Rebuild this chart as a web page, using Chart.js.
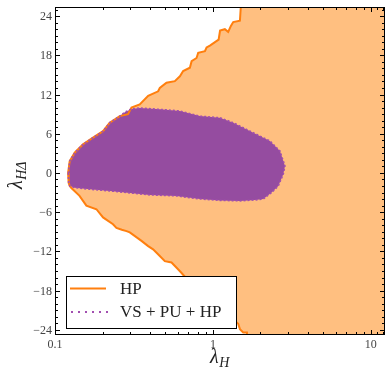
<!DOCTYPE html>
<html>
<head>
<meta charset="utf-8">
<script src="https://cdn.jsdelivr.net/npm/chart.js@4.4.1/dist/chart.umd.min.js"></script>
<style>
  html, body { margin: 0; padding: 0; background: #fff; }
  canvas { display: block; }
</style>
</head>
<body>
<canvas id="chart" width="387" height="368"></canvas>
<script>
// HP allowed region boundary (everything to the right of it is allowed)
const hpLambdaH = [1.50, 1.50, 1.483, 1.345, 1.30, 1.25, 1.19, 1.11, 1.087, 0.957, 0.912, 0.89, 0.807, 0.788, 0.733, 0.715,
  0.648, 0.618, 0.574, 0.508, 0.461, 0.45, 0.389, 0.344, 0.305, 0.29, 0.257, 0.222, 0.2015, 0.174, 0.1505, 0.1333,
  0.1239, 0.121, 0.122, 0.124, 0.127, 0.143, 0.158, 0.183, 0.2015, 0.233, 0.245, 0.265, 0.2836, 0.2977, 0.353, 0.389,
  0.418, 0.461, 0.496, 0.547, 0.589, 0.627, 0.70, 0.827, 0.95, 1.108, 1.25, 1.42, 1.447, 1.483, 1.556, 1.643, 1.65,
  100, 100];
const hpLambdaHD = [30, 25.2, 23.3, 23.1, 22.5, 21.6, 22.0, 21.8, 20.4, 19.5, 19.2, 18.65, 18.4, 17.6, 17.1, 16.1,
  15.6, 14.8, 14.05, 13.8, 13.0, 12.5, 11.8, 10.5, 10.0, 9.0, 8.7, 7.7, 6.4, 5.4, 4.4, 3.1,
  1.8, 0, -1.5, -2.0, -2.3, -3.5, -5.0, -5.55, -6.8, -7.85, -8.4, -8.7, -8.9, -9.1, -10.4, -11.2,
  -11.7, -12.7, -13.5, -13.7, -14.5, -15.2, -16.5, -18.0, -19.3, -20.3, -21.5, -22.9, -23.1, -23.9, -24.4, -24.4, -30,
  -30, 30];

// VS + PU + HP allowed region (closed contour)
const vsLambdaH = [0.1213, 0.122, 0.124, 0.1333, 0.166, 0.222, 0.2977, 0.3986, 0.589, 0.827, 1.108, 1.483, 1.846,
  2.084, 2.356, 2.595, 2.79, 2.862, 2.66, 2.298, 1.801, 1.345, 1.108, 0.827, 0.618, 0.461, 0.344, 0.305, 0.2767,
  0.257, 0.222, 0.2015, 0.174, 0.1505, 0.1333, 0.1239, 0.1213];
const vsLambdaHD = [0, -1.5, -2.0, -2.25, -2.5, -2.75, -3.06, -3.36, -3.52, -3.98, -4.2, -4.28, -4.13,
  -4.0, -3.0, -2.0, -0.2, 1.07, 3.36, 4.9, 6.16, 7.7, 8.46, 8.7, 9.5, 9.74, 9.94, 9.8, 9.3,
  8.7, 7.7, 6.4, 5.4, 4.4, 3.1, 1.8, 0];

const seriesNames = ['HP', 'VS + PU + HP'];
const xTickValues = [0.1, 1, 10];
const xTickLabels = ['0.1', '1', '10'];
const yTickValues = [-24, -18, -12, -6, 0, 6, 12, 18, 24];
const yTickLabels = ['\u221224', '\u221218', '\u221212', '\u22126', '0', '6', '12', '18', '24'];

const orangeLine = '#ff7f0e';
const orangeFill = '#ffbf80';
const purpleFill = '#954ca0';
const purpleLine = '#a24fb0';
const serif = '"Liberation Serif", "DejaVu Serif", serif';

const toPts = (xs, ys) => xs.map((v, i) => ({ x: v, y: ys[i] }));
const hpPts = toPts(hpLambdaH, hpLambdaHD);
const vsPts = toPts(vsLambdaH, vsLambdaHD);

// lambda with subscript, drawn at (x, y) baseline, optionally rotated
function drawLambda(ctx, x, y, sub, rot) {
  ctx.save();
  ctx.translate(x, y);
  ctx.rotate(rot);
  ctx.fillStyle = '#222';
  ctx.textAlign = 'left';
  ctx.textBaseline = 'alphabetic';
  ctx.font = 'italic 20px ' + serif;
  ctx.fillText('\u03bb', 0, 0);
  const w = ctx.measureText('\u03bb').width;
  ctx.font = 'italic 14px ' + serif;
  ctx.fillText(sub, w + 0.5, 4);
  ctx.restore();
}

const axesPlugin = {
  id: 'axesPlugin',
  afterDraw(chart) {
    const { ctx, chartArea: a, scales: { x, y } } = chart;
    ctx.save();

    // ticks on all four sides, pointing in
    ctx.strokeStyle = '#000';
    ctx.lineWidth = 1;
    ctx.beginPath();
    for (let v = -24; v <= 25; v++) {
      const len = yTickValues.includes(v) ? 5 : 3;
      const py = Math.round(y.getPixelForValue(v)) + 0.5;
      ctx.moveTo(a.left, py); ctx.lineTo(a.left + len, py);
      ctx.moveTo(a.right, py); ctx.lineTo(a.right - len, py);
    }
    const xMinor = [];
    [0.1, 1, 10].forEach(d => { for (let k = 1; k <= 9; k++) xMinor.push(+(d * k).toFixed(3)); });
    xMinor.push(11, 12);
    xMinor.forEach(v => {
      if (v < x.min || v > x.max) return;
      const len = xTickValues.includes(v) ? 5 : 3;
      const px = Math.round(x.getPixelForValue(v)) + 0.5;
      ctx.moveTo(px, a.bottom); ctx.lineTo(px, a.bottom - len);
      ctx.moveTo(px, a.top); ctx.lineTo(px, a.top + len);
    });
    ctx.stroke();

    // frame
    ctx.strokeRect(a.left + 0.5, a.top + 0.5, a.right - a.left - 1, a.bottom - a.top - 1);

    // tick labels
    ctx.fillStyle = '#444';
    ctx.font = '12px ' + serif;
    ctx.textAlign = 'right';
    ctx.textBaseline = 'alphabetic';
    yTickValues.forEach((v, i) => {
      ctx.fillText(yTickLabels[i], a.left - 3, y.getPixelForValue(v) + 4);
    });
    ctx.textAlign = 'center';
    xTickValues.forEach((v, i) => {
      ctx.fillText(xTickLabels[i], x.getPixelForValue(v), a.bottom + 13);
    });

    // axis titles
    drawLambda(ctx, 210, 363, 'H', 0);
    drawLambda(ctx, 22, 189, 'H\u0394', -Math.PI / 2);

    // legend box
    const lx = 66.5, ly = 276.5, lw = 170, lh = 52;
    ctx.fillStyle = '#fff';
    ctx.fillRect(lx, ly, lw, lh);
    ctx.strokeStyle = '#000';
    ctx.lineWidth = 1;
    ctx.strokeRect(lx, ly, lw, lh);

    ctx.lineWidth = 2;
    ctx.strokeStyle = orangeLine;
    ctx.beginPath(); ctx.moveTo(70, 288.5); ctx.lineTo(106, 288.5); ctx.stroke();
    ctx.strokeStyle = purpleLine;
    ctx.setLineDash([2, 5]);
    ctx.beginPath(); ctx.moveTo(71, 312); ctx.lineTo(108, 312); ctx.stroke();
    ctx.setLineDash([]);

    ctx.fillStyle = '#222';
    ctx.font = '17px ' + serif;
    ctx.textAlign = 'left';
    ctx.fillText(seriesNames[0], 120, 294);
    ctx.fillText(seriesNames[1], 120, 317);

    ctx.restore();
  }
};

new Chart(document.getElementById('chart'), {
  type: 'line',
  data: {
    datasets: [
      { label: seriesNames[0], data: hpPts, fill: 'shape', backgroundColor: orangeFill,
        borderColor: 'rgba(0,0,0,0)', borderWidth: 0, pointRadius: 0, tension: 0, order: 4 },
      { label: seriesNames[1], data: vsPts, fill: 'shape', backgroundColor: purpleFill,
        borderColor: 'rgba(0,0,0,0)', borderWidth: 0, pointRadius: 0, tension: 0, order: 3 },
      { label: seriesNames[0], data: hpPts, fill: false, borderColor: orangeLine,
        borderWidth: 2, pointRadius: 0, tension: 0, order: 2 },
      { label: seriesNames[1], data: vsPts, fill: false, borderColor: purpleLine,
        borderWidth: 1.5, borderDash: [2, 2], pointRadius: 0, tension: 0, order: 1 }
    ]
  },
  options: {
    responsive: false,
    animation: false,
    layout: { padding: { left: 55, right: 2, top: 7, bottom: 33 } },
    plugins: { legend: { display: false }, tooltip: { enabled: false } },
    scales: {
      x: { type: 'logarithmic', min: 0.1, max: 12.3, display: false },
      y: { type: 'linear', min: -24.8, max: 25.4, display: false }
    }
  },
  plugins: [axesPlugin]
});
</script>
</body>
</html>
